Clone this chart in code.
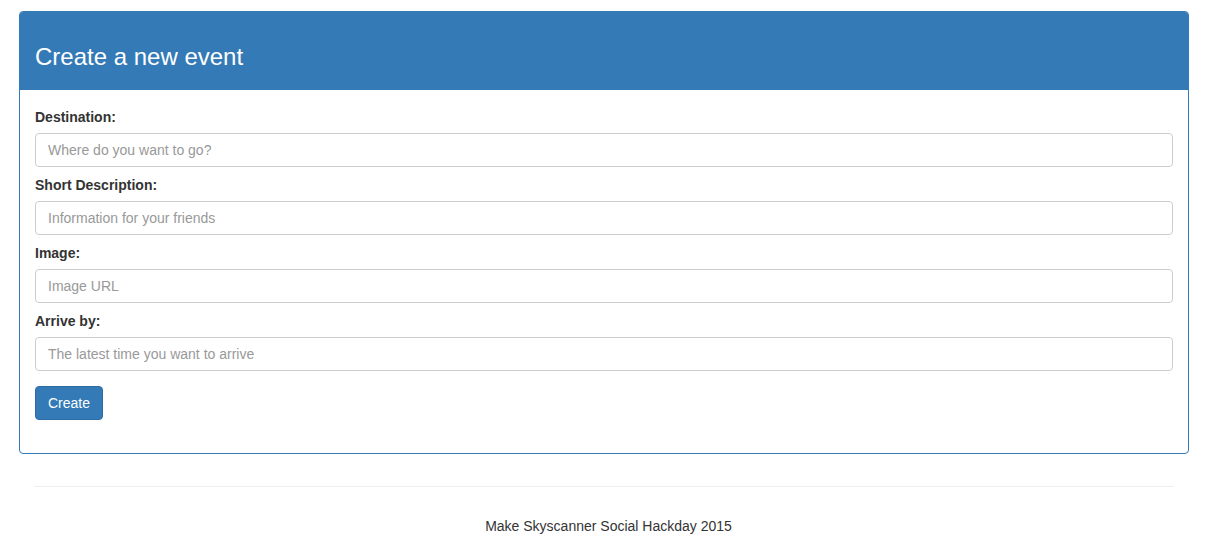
<!DOCTYPE html>
<html><head><meta charset="utf-8">
<script src="https://cdn.jsdelivr.net/npm/chart.js@4"></script>
<style>
body{margin:0;font-family:"Liberation Sans",Arial,sans-serif;font-size:14px;color:#333;background:#fff}
.panel{position:absolute;left:19px;top:11px;width:1168px;height:441px;border:1px solid #337ab7;border-radius:4px;overflow:hidden}
.head{background:#337ab7;color:#fff;height:78px;padding:0 15px;font-size:24px;line-height:90px;box-sizing:border-box}
.body{padding:15px 15px}
label{display:block;font-weight:bold;margin:2px 0 6px;height:20px;line-height:20px}
.inp{height:34px;border:1px solid #ccc;border-radius:4px;box-sizing:border-box;padding:0 12px;line-height:32px;color:#999;margin-bottom:8px}
.btn{display:inline-block;background:#337ab7;border:1px solid #2e6da4;color:#fff;border-radius:4px;height:34px;line-height:32px;padding:0 12px;box-sizing:border-box;margin-top:7px}
hr{position:absolute;left:34px;width:1140px;top:486px;border:0;border-top:1px solid #eee;margin:0}
.foot{position:absolute;top:518px;left:0;width:1217px;text-align:center}
</style></head><body>
<div class="panel"><div class="head">Create a new event</div><div class="body" id="form"></div></div>
<hr><div class="foot">Make Skyscanner Social Hackday 2015</div>
<script>
const fieldLabels = ['Destination:', 'Short Description:', 'Image:', 'Arrive by:'];
const placeholders = ['Where do you want to go?', 'Information for your friends', 'Image URL', 'The latest time you want to arrive'];
const buttonText = 'Create';
document.getElementById('form').innerHTML =
    fieldLabels.map((l, i) => `<label>${l}</label><div class="inp">${placeholders[i]}</div>`).join('') +
    `<div class="btn">${buttonText}</div>`;
</script>
</body></html>
